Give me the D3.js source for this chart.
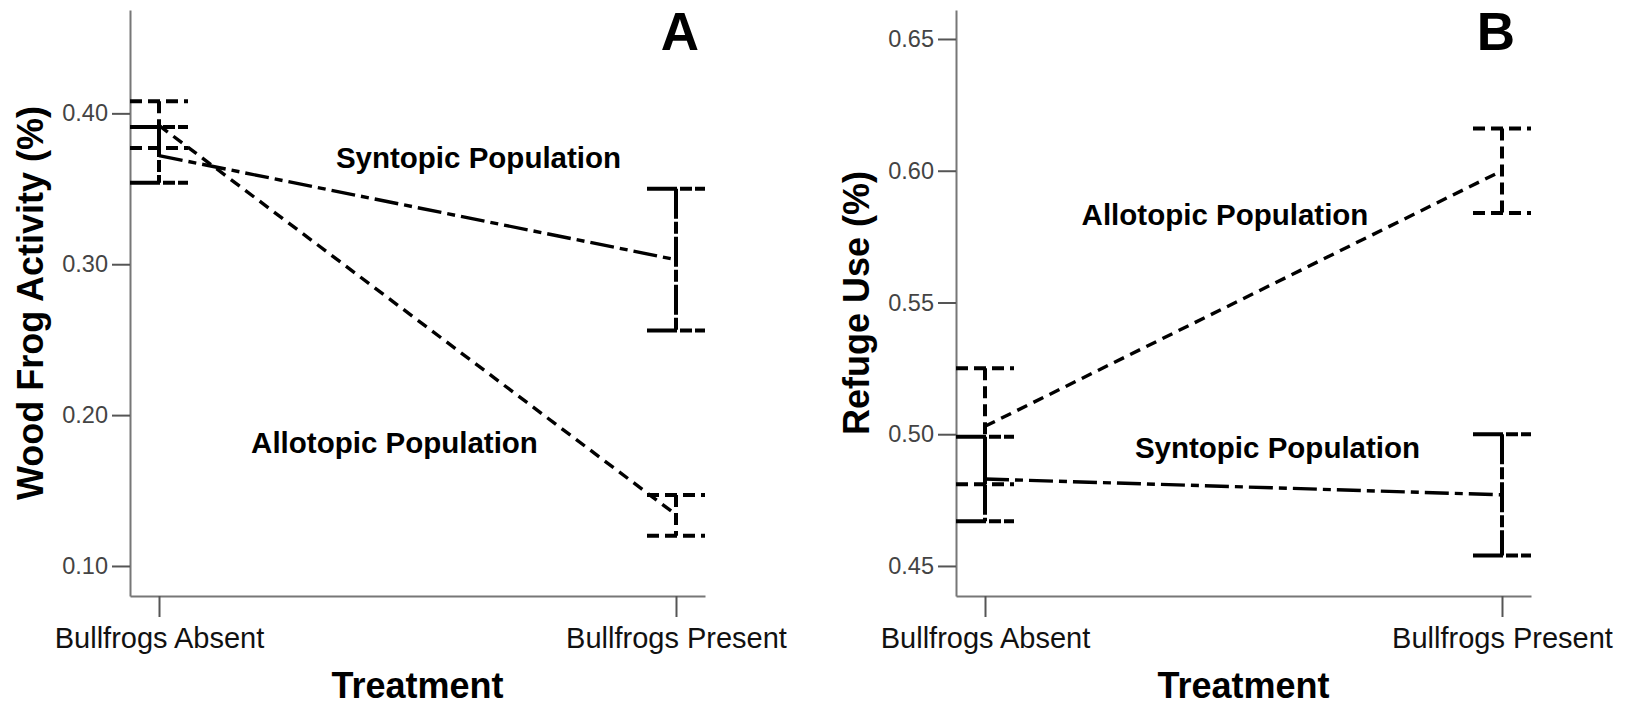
<!DOCTYPE html>
<html>
<head>
<meta charset="utf-8">
<script src="https://cdn.jsdelivr.net/npm/d3@7"></script>
<style>
  html, body { margin: 0; padding: 0; background: #fff; }
  svg { display: block; font-family: "Liberation Sans", Arial, sans-serif; }
</style>
</head>
<body>
<script>
// ---------- DATA ----------
const categories = ["Bullfrogs Absent", "Bullfrogs Present"];
const seriesNames = ["Syntopic Population", "Allotopic Population"];

// Panel A: Wood Frog Activity (%)
const activityTicks = [0.10, 0.20, 0.30, 0.40];
const activitySyntopicMean = [0.372, 0.303];
const activitySyntopicLow  = [0.354, 0.256];
const activitySyntopicHigh = [0.391, 0.350];
const activityAllotopicMean = [0.392, 0.134];
const activityAllotopicLow  = [0.377, 0.120];
const activityAllotopicHigh = [0.408, 0.147];

// Panel B: Refuge Use (%)
const refugeTicks = [0.45, 0.50, 0.55, 0.60, 0.65];
const refugeSyntopicMean = [0.483, 0.477];
const refugeSyntopicLow  = [0.467, 0.454];
const refugeSyntopicHigh = [0.499, 0.500];
const refugeAllotopicMean = [0.503, 0.600];
const refugeAllotopicLow  = [0.481, 0.584];
const refugeAllotopicHigh = [0.525, 0.616];

// ---------- LAYOUT / STYLE ----------
const W = 1629, H = 705;
const plotTop = 10, plotBottom = 596;
const lineDash = { "Syntopic Population": "24,6,8,6", "Allotopic Population": "11,7" };
const barDash  = { "Syntopic Population": "30,3,12,3", "Allotopic Population": "12,6" };
const capHalf = 29;

const panels = [
  {
    letter: "A", x0: 130, x1: 705, domain: [0.0801, 0.4685], ticks: activityTicks,
    yTitle: "Wood Frog Activity (%)", letterX: 699,
    series: [
      { name: seriesNames[0], mean: activitySyntopicMean, low: activitySyntopicLow, high: activitySyntopicHigh },
      { name: seriesNames[1], mean: activityAllotopicMean, low: activityAllotopicLow, high: activityAllotopicHigh }
    ],
    labels: [
      { text: seriesNames[0], x: 478.5, y: 168 },
      { text: seriesNames[1], x: 394.5, y: 453 }
    ]
  },
  {
    letter: "B", x0: 956, x1: 1531, domain: [0.4386, 0.661], ticks: refugeTicks,
    yTitle: "Refuge Use (%)", letterX: 1515,
    series: [
      { name: seriesNames[0], mean: refugeSyntopicMean, low: refugeSyntopicLow, high: refugeSyntopicHigh },
      { name: seriesNames[1], mean: refugeAllotopicMean, low: refugeAllotopicLow, high: refugeAllotopicHigh }
    ],
    labels: [
      { text: seriesNames[1], x: 1225, y: 225 },
      { text: seriesNames[0], x: 1277.5, y: 458 }
    ]
  }
];

const svg = d3.select("body").append("svg").attr("width", W).attr("height", H);
svg.append("rect").attr("width", W).attr("height", H).attr("fill", "#fff");

panels.forEach(p => {
  const g = svg.append("g");
  const x = d3.scalePoint().domain(categories).range([p.x0, p.x1]).padding(0.0561);
  const y = d3.scaleLinear().domain(p.domain).range([plotBottom, plotTop]);

  // Y axis
  const yAx = g.append("g").attr("transform", `translate(${p.x0},0)`)
    .call(d3.axisLeft(y).tickValues(p.ticks).tickFormat(d3.format(".2f"))
      .tickSize(18).tickSizeOuter(0).tickPadding(4));
  yAx.select(".domain").attr("stroke", "#777").attr("stroke-width", 2);
  yAx.selectAll(".tick line").attr("stroke", "#555").attr("stroke-width", 2);
  yAx.selectAll(".tick text").attr("fill", "#444").style("font-size", "23.5px")
    .style("font-family", "'Liberation Sans', Arial, sans-serif");

  // X axis
  const xAx = g.append("g").attr("transform", `translate(0,${plotBottom})`)
    .call(d3.axisBottom(x).tickSize(21).tickSizeOuter(0).tickPadding(10));
  xAx.select(".domain").attr("stroke", "#777").attr("stroke-width", 2);
  xAx.selectAll(".tick line").attr("stroke", "#555").attr("stroke-width", 2);
  xAx.selectAll(".tick text").attr("fill", "#111").style("font-size", "29px")
    .style("font-family", "'Liberation Sans', Arial, sans-serif");

  // Axis titles
  g.append("text")
    .attr("transform", `translate(${p.x0 - 87},${(plotTop + plotBottom) / 2}) rotate(-90)`)
    .attr("text-anchor", "middle").attr("font-weight", "bold").attr("font-size", 36)
    .attr("fill", "#000").text(p.yTitle);
  g.append("text")
    .attr("x", (p.x0 + p.x1) / 2).attr("y", 698)
    .attr("text-anchor", "middle").attr("font-weight", "bold").attr("font-size", 36)
    .attr("fill", "#000").text("Treatment");

  // Panel letter
  g.append("text").attr("x", p.letterX).attr("y", 50)
    .attr("text-anchor", "end").attr("font-weight", "bold").attr("font-size", 53)
    .attr("fill", "#000").text(p.letter);

  // Series lines and error bars
  p.series.forEach(s => {
    const line = d3.line().x((d, i) => x(categories[i])).y(d => y(d));
    g.append("path").datum(s.mean).attr("d", line)
      .attr("fill", "none").attr("stroke", "#000").attr("stroke-width", 3.4)
      .attr("stroke-dasharray", lineDash[s.name]);

    const eb = g.append("g").attr("stroke", "#000").attr("stroke-width", 4)
      .attr("stroke-dasharray", barDash[s.name]).attr("fill", "none");
    categories.forEach((c, i) => {
      const cx = x(c);
      eb.append("line").attr("x1", cx).attr("x2", cx)
        .attr("y1", y(s.high[i])).attr("y2", y(s.low[i]));
      [s.high[i], s.low[i]].forEach(v => {
        eb.append("line").attr("x1", cx - capHalf).attr("x2", cx + capHalf)
          .attr("y1", y(v)).attr("y2", y(v));
      });
    });
  });

  // Population labels
  p.labels.forEach(l => {
    g.append("text").attr("x", l.x).attr("y", l.y)
      .attr("text-anchor", "middle").attr("font-weight", "bold").attr("font-size", 29.5)
      .attr("fill", "#000").text(l.text);
  });
});
</script>
</body>
</html>
